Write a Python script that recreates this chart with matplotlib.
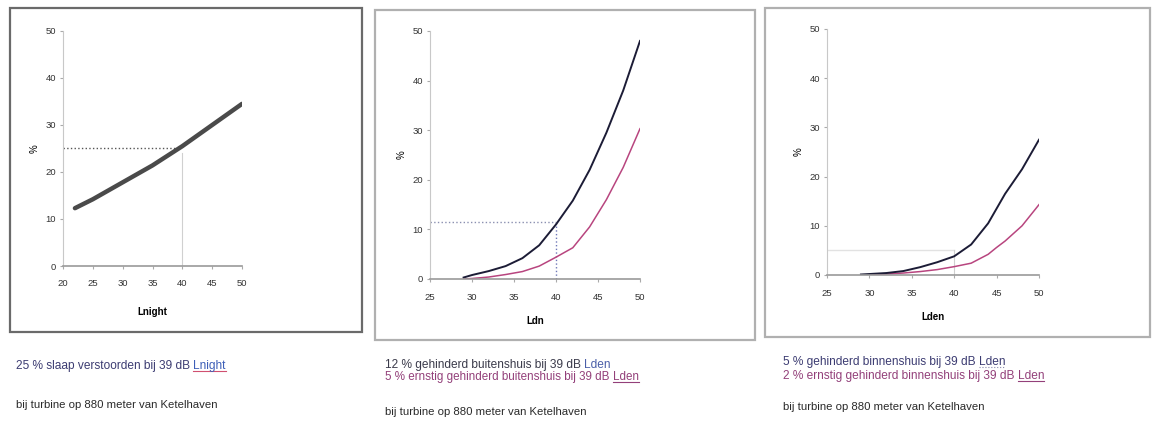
import matplotlib
matplotlib.use("Agg")
import matplotlib.pyplot as plt
from matplotlib.patches import Rectangle

plt.rcParams['font.family'] = ['Liberation Sans', 'DejaVu Sans']

W, H = 1152, 432

# paneel 1: slaapverstoring (Lnight)
x1 = [22, 25, 30, 35, 40, 45, 50]
y1 = [12.3, 14.2, 17.8, 21.4, 25.5, 30.0, 34.5]
ref1 = (40, 25)

# paneel 2: hinder buitenshuis (Lden)
x2 = [29, 30, 32, 34, 36, 38, 40, 42, 44, 46, 48, 50]
gehinderd2 = [0.3, 0.8, 1.6, 2.6, 4.2, 6.8, 11.0, 15.8, 22.0, 29.5, 38.0, 48.0]
ernstig2 = [0.0, 0.1, 0.4, 0.9, 1.5, 2.6, 4.4, 6.3, 10.5, 16.0, 22.5, 30.3]
ref2 = (40, 11.5)

# paneel 3: hinder binnenshuis (Lden)
x3 = [29, 30, 32, 34, 36, 38, 40, 42, 44, 45, 46, 48, 50]
gehinderd3 = [0.1, 0.2, 0.4, 0.8, 1.6, 2.6, 3.8, 6.2, 10.5, 13.5, 16.5, 21.5, 27.5]
ernstig3 = [0.0, 0.05, 0.2, 0.4, 0.7, 1.1, 1.7, 2.4, 4.2, 5.6, 6.9, 10.0, 14.3]
ref3 = (40, 5)

yticks = [0, 10, 20, 30, 40, 50]

fig = plt.figure(figsize=(W / 100, H / 100), dpi=100)
renderer = fig.canvas.get_renderer()


def frac(left, top, right, bottom):
    return [left / W, 1 - bottom / H, (right - left) / W, (bottom - top) / H]


def kader(left, top, right, bottom, kleur):
    fig.patches.append(Rectangle((left / W, 1 - bottom / H), (right - left) / W, (bottom - top) / H,
                                 transform=fig.transFigure, fill=False, edgecolor=kleur, lw=1.6))


def as_opmaak(ax, xmin, xticks, xlabel):
    ax.set_xlim(xmin, 50)
    ax.set_ylim(0, 50)
    for s in ['top', 'right']:
        ax.spines[s].set_visible(False)
    ax.spines['left'].set_color('#c8c8c8')
    ax.spines['bottom'].set_color('#9a9a9a')
    ax.spines['bottom'].set_linewidth(1.2)
    ax.set_xticks(xticks)
    ax.set_yticks(yticks)
    ax.tick_params(axis='both', labelsize=6.8, length=2, colors='#aaaaaa', labelcolor='#333333', pad=8)
    ax.tick_params(axis='y', pad=3)
    ax.set_xlabel(xlabel, fontsize=7, fontweight='bold', labelpad=10)
    ax.set_ylabel('%', fontsize=7, rotation=90, labelpad=4)
    ax.patch.set_alpha(0)


# --- paneel 1
kader(10, 8, 362, 332, '#6a6a6a')
ax1 = fig.add_axes(frac(63, 31, 242, 266))
as_opmaak(ax1, 20, [20, 25, 30, 35, 40, 45, 50], 'Lnight')
ax1.plot([20, ref1[0] - 0.5], [ref1[1], ref1[1]], ls=':', color='#555555', lw=1.0)
ax1.plot([ref1[0], ref1[0]], [0, ref1[1] - 1], color='#d0d0d0', lw=0.8)
ax1.plot(x1, y1, color='#4a4a4a', lw=3.2, solid_capstyle='round')
ax1.tick_params(axis='x', pad=7)
ax1.xaxis.labelpad = 14

# --- paneel 2
kader(375, 10, 755, 340, '#b0b0b0')
ax2 = fig.add_axes(frac(430, 31, 640, 279))
as_opmaak(ax2, 25, [25, 30, 35, 40, 45, 50], 'Ldn')
ax2.plot([25, ref2[0]], [ref2[1], ref2[1]], ls=':', color='#8a8fb0', lw=1.0)
ax2.plot([ref2[0], ref2[0]], [0, ref2[1]], ls=':', color='#6f78b8', lw=1.0)
ax2.plot(x2, ernstig2, color='#b8457f', lw=1.1)
ax2.plot(x2, gehinderd2, color='#1c1c36', lw=1.4)

# --- paneel 3
kader(765, 8, 1150, 337, '#b0b0b0')
ax3 = fig.add_axes(frac(827, 29, 1039, 275))
as_opmaak(ax3, 25, [25, 30, 35, 40, 45, 50], 'Lden')
ax3.plot([25, ref3[0]], [ref3[1], ref3[1]], color='#e2e2e2', lw=1.0)
ax3.plot([ref3[0], ref3[0]], [0, ref3[1]], color='#d0d0d0', lw=0.8)
ax3.plot(x3, ernstig3, color='#b8457f', lw=1.1)
ax3.plot(x3, gehinderd3, color='#1c1c36', lw=1.4)


# --- onderschriften: stukken tekst achter elkaar
def regel(x, y, stukken, size=8.6, onderstreep=None, stijl='-'):
    for s, kleur in stukken:
        t = fig.text(x / W, 1 - y / H, s, color=kleur, fontsize=size, va='center', ha='left')
        bb = t.get_window_extent(renderer)
        if onderstreep and s.strip() in ('Lnight', 'Lden'):
            fig.lines.append(plt.Line2D([bb.x0 / W, bb.x1 / W], [(bb.y0 + 1.5) / H] * 2,
                                        transform=fig.transFigure, color=onderstreep, lw=0.8, ls=stijl))
        x = bb.x1


donker = '#3c3c72'
paars = '#93407a'
zwart = '#2a2a2a'
onderschrift = 'bij turbine op 880 meter van Ketelhaven'

regel(16, 366, [('25 % slaap verstoorden bij 39 dB ', donker), ('Lnight', '#3d5fb8')], onderstreep='#d05070')
regel(16, 405, [(onderschrift, zwart)], size=8.2)

regel(385, 365, [('12 % gehinderd buitenshuis bij 39 dB ', '#3a3a4a'), ('Lden', '#4a5ea8')])
regel(385, 377, [('5 % ernstig gehinderd buitenshuis bij 39 dB ', paars), ('Lden', paars)],
      size=8.4, onderstreep=paars)
regel(385, 412, [(onderschrift, zwart)], size=8.2)

regel(783, 362, [('5 % gehinderd binnenshuis bij 39 dB ', donker), ('Lden', donker)],
      onderstreep='#8888aa', stijl=':')
regel(783, 376, [('2 % ernstig gehinderd binnenshuis bij 39 dB ', paars), ('Lden', paars)], onderstreep=paars)
regel(783, 407, [(onderschrift, zwart)], size=8.2)

fig.savefig('out.png', dpi=100, facecolor='white')
